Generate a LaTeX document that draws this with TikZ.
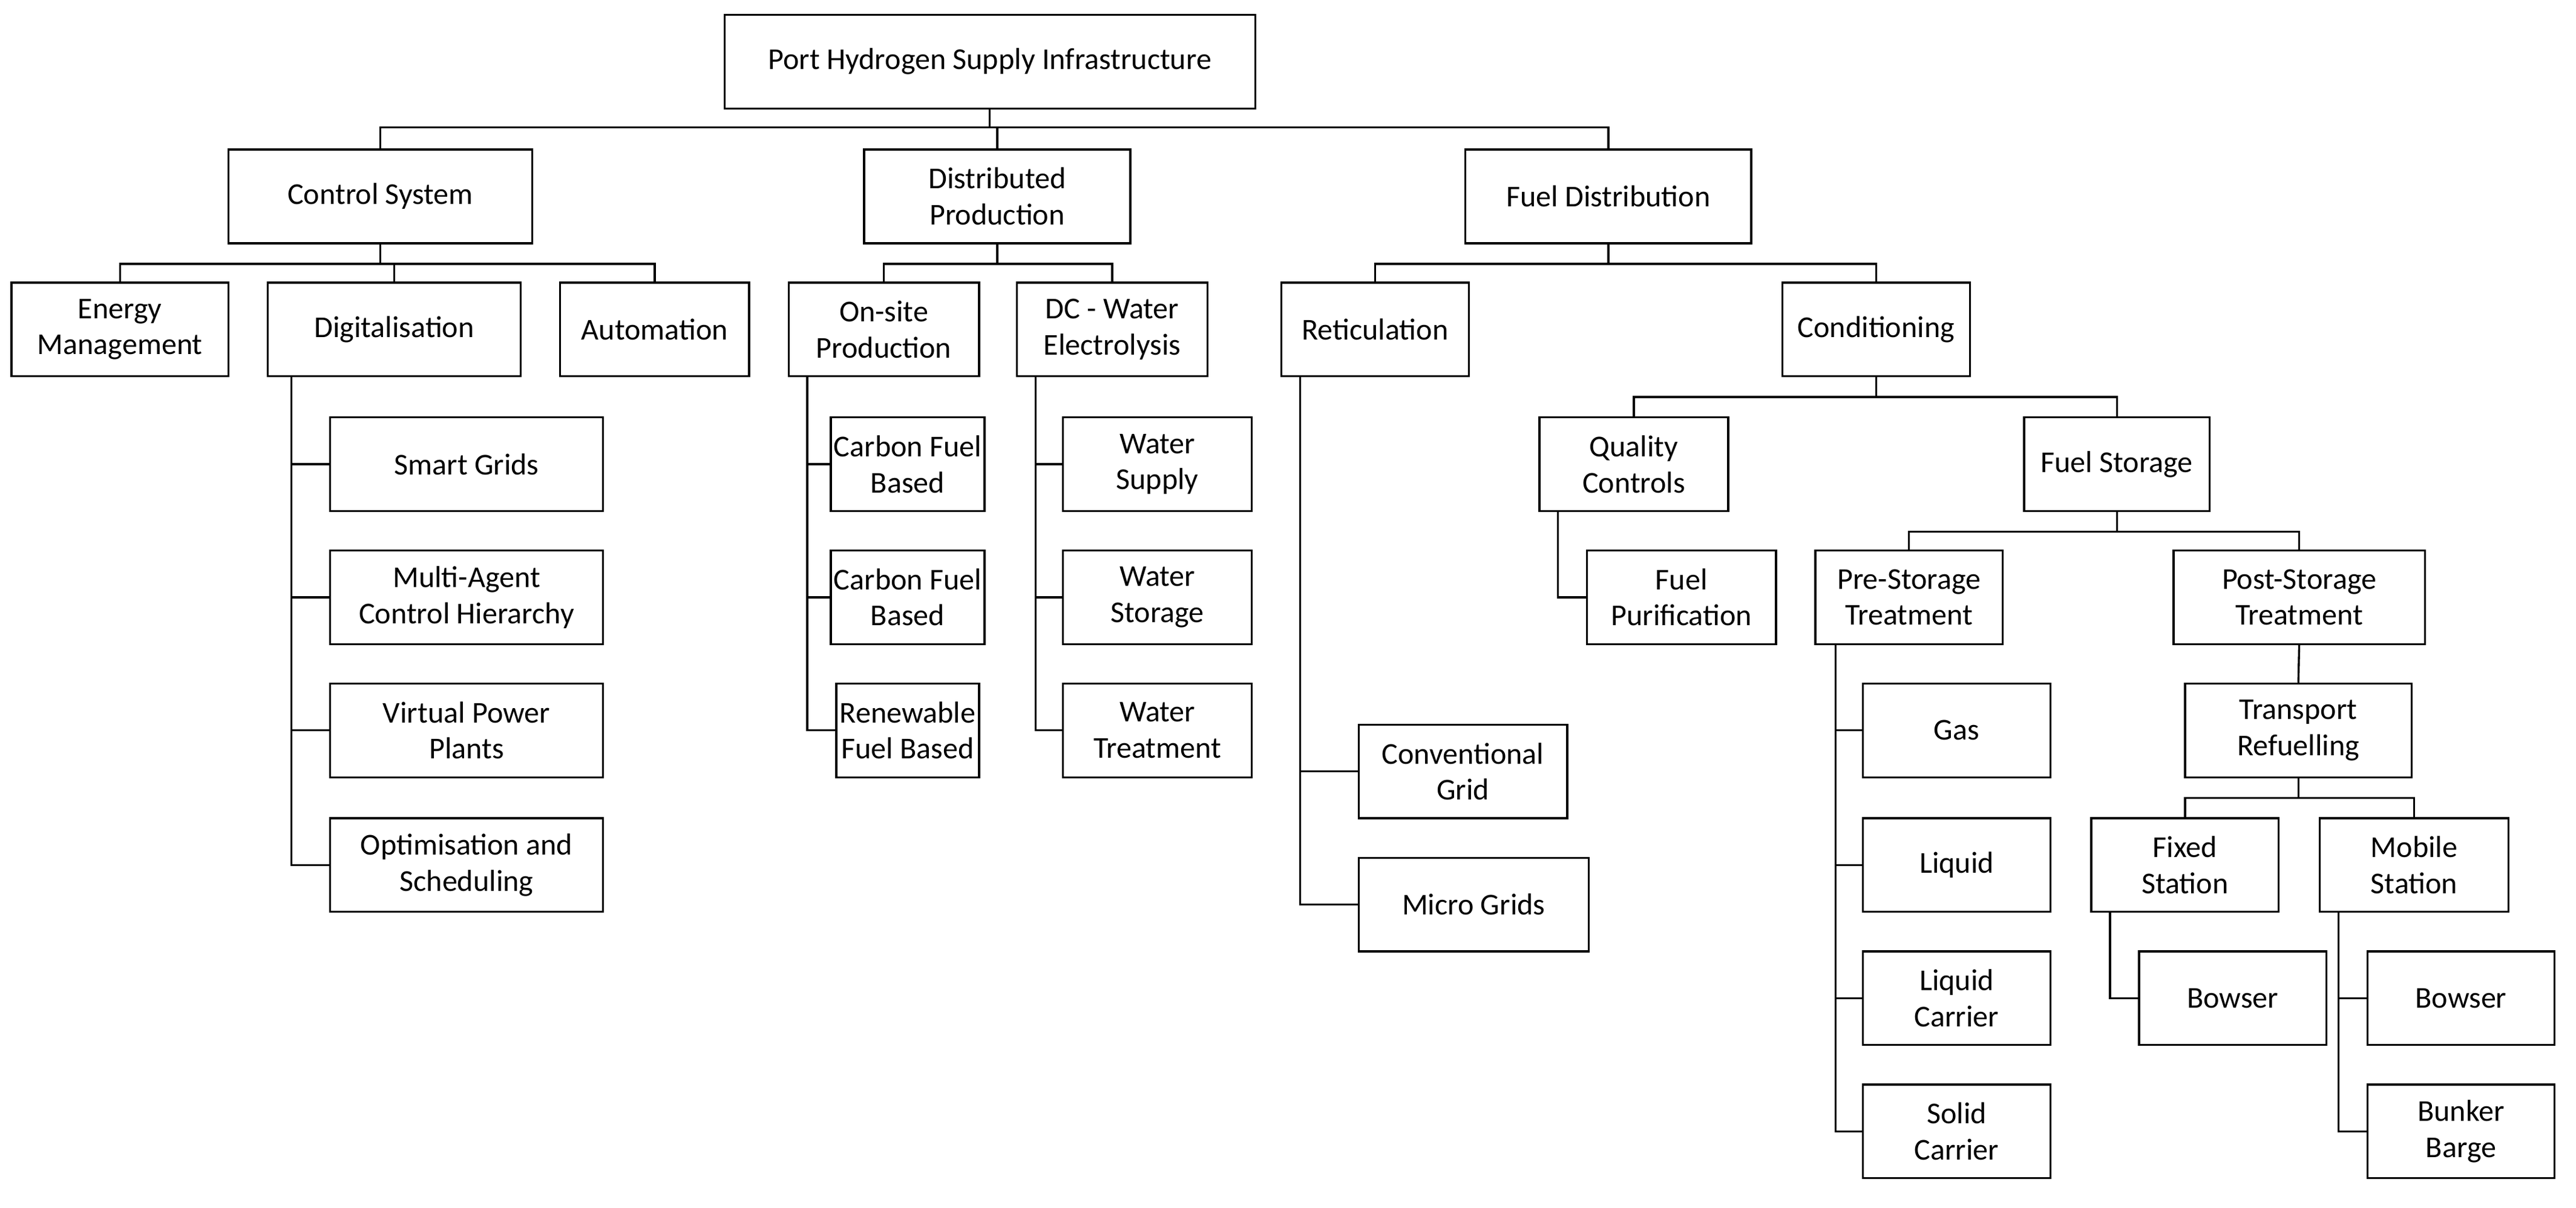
\documentclass[tikz,border=0pt]{standalone}
\usepackage{fontspec}
\setmainfont{Carlito}
\begin{document}
\begin{tikzpicture}[x=0.02cm,y=-0.02cm,
  box/.style={draw,line width=0.7pt,align=center,inner sep=1pt,font=\fontsize{10.5}{12.5}\selectfont},
  link/.style={draw,line width=0.7pt}]
\newcommand\bx[6]{%
  \pgfmathsetmacro\bw{(#4-#2)*0.02}\pgfmathsetmacro\bh{(#5-#3)*0.02}%
  \node[box,minimum width=\bw cm,minimum height=\bh cm] (#1) at ({(#2+#4)/2},{(#3+#5)/2}) {#6};}
\useasboundingbox (0,0) rectangle (1568,735);
% level 0-1
\bx{root}{441}{9}{764}{66}{Port Hydrogen Supply Infrastructure}
\bx{cs}{139}{91}{324}{148}{Control System}
\bx{dp}{526}{91}{688}{148}{Distributed\\Production}
\bx{fd}{892}{91}{1066}{148}{Fuel Distribution}
% level 2
\bx{em}{7}{172}{139}{229}{Energy\\Management}
\bx{dig}{163}{172}{317}{229}{Digitalisation}
\bx{aut}{341}{172}{456}{229}{Automation}
\bx{osp}{480}{172}{596}{229}{On-site\\Production}
\bx{dc}{619}{172}{735}{229}{DC - Water\\Electrolysis}
\bx{ret}{780}{172}{894}{229}{Reticulation}
\bx{con}{1085}{172}{1199}{229}{Conditioning}
% digitalisation
\bx{sg}{201}{254}{367}{311}{Smart Grids}
\bx{ma}{201}{335}{367}{392}{Multi-Agent\\Control Hierarchy}
\bx{vp}{201}{416}{367}{473}{Virtual Power\\Plants}
\bx{os}{201}{498}{367}{555}{Optimisation and\\Scheduling}
% production
\bx{cf1}{509}{254}{596}{311}{Carbon Fuel\\Based}
\bx{cf2}{509}{335}{596}{392}{Carbon Fuel\\Based}
\bx{rf}{509}{416}{596}{473}{Renewable\\Fuel Based}
\bx{ws}{647}{254}{762}{311}{Water\\Supply}
\bx{wst}{647}{335}{762}{392}{Water\\Storage}
\bx{wt}{647}{416}{762}{473}{Water\\Treatment}
% reticulation
\bx{cg}{827}{441}{954}{498}{Conventional\\Grid}
\bx{mg}{827}{522}{967}{579}{Micro Grids}
% conditioning
\bx{qc}{937}{254}{1052}{311}{Quality\\Controls}
\bx{fs}{1232}{254}{1345}{311}{Fuel Storage}
\bx{fp}{966}{335}{1081}{392}{Fuel\\Purification}
\bx{pre}{1105}{335}{1219}{392}{Pre-Storage\\Treatment}
\bx{post}{1323}{335}{1476}{392}{Post-Storage\\Treatment}
\bx{gas}{1134}{416}{1248}{473}{Gas}
\bx{liq}{1134}{498}{1248}{555}{Liquid}
\bx{lc}{1134}{579}{1248}{636}{Liquid\\Carrier}
\bx{sc}{1134}{660}{1248}{717}{Solid\\Carrier}
\bx{tr}{1330}{416}{1468}{473}{Transport\\Refuelling}
\bx{fix}{1273}{498}{1387}{555}{Fixed\\Station}
\bx{mob}{1412}{498}{1527}{555}{Mobile\\Station}
\bx{bw1}{1302}{579}{1416}{636}{Bowser}
\bx{bw2}{1441}{579}{1555}{636}{Bowser}
\bx{bb}{1441}{660}{1555}{717}{Bunker\\Barge}
% tree connectors
\foreach \c in {cs,dp,fd} \path[link] (root.south) -- ++(0,11) -| (\c.north);
\foreach \c in {em,dig,aut} \path[link] (cs.south) -- ++(0,12) -| (\c.north);
\foreach \c in {osp,dc} \path[link] (dp.south) -- ++(0,12) -| (\c.north);
\foreach \c in {ret,con} \path[link] (fd.south) -- ++(0,12) -| (\c.north);
\foreach \c in {qc,fs} \path[link] (con.south) -- ++(0,12) -| (\c.north);
\foreach \c in {pre,post} \path[link] (fs.south) -- ++(0,12) -| (\c.north);
\path[link] (post.south) -- (tr.north);
\foreach \c in {fix,mob} \path[link] (tr.south) -- ++(0,12) -| (\c.north);
% side lists
\foreach \c in {sg,ma,vp,os} \path[link] ([xshift=0.3cm]dig.south west) |- (\c.west);
\foreach \c in {cf1,cf2,rf} \path[link] ([xshift=0.24cm]osp.south west) |- (\c.west);
\foreach \c in {ws,wst,wt} \path[link] ([xshift=0.24cm]dc.south west) |- (\c.west);
\foreach \c in {cg,mg} \path[link] ([xshift=0.24cm]ret.south west) |- (\c.west);
\path[link] ([xshift=0.24cm]qc.south west) |- (fp.west);
\foreach \c in {gas,liq,lc,sc} \path[link] ([xshift=0.26cm]pre.south west) |- (\c.west);
\path[link] ([xshift=0.24cm]fix.south west) |- (bw1.west);
\foreach \c in {bw2,bb} \path[link] ([xshift=0.24cm]mob.south west) |- (\c.west);
\end{tikzpicture}
\end{document}
